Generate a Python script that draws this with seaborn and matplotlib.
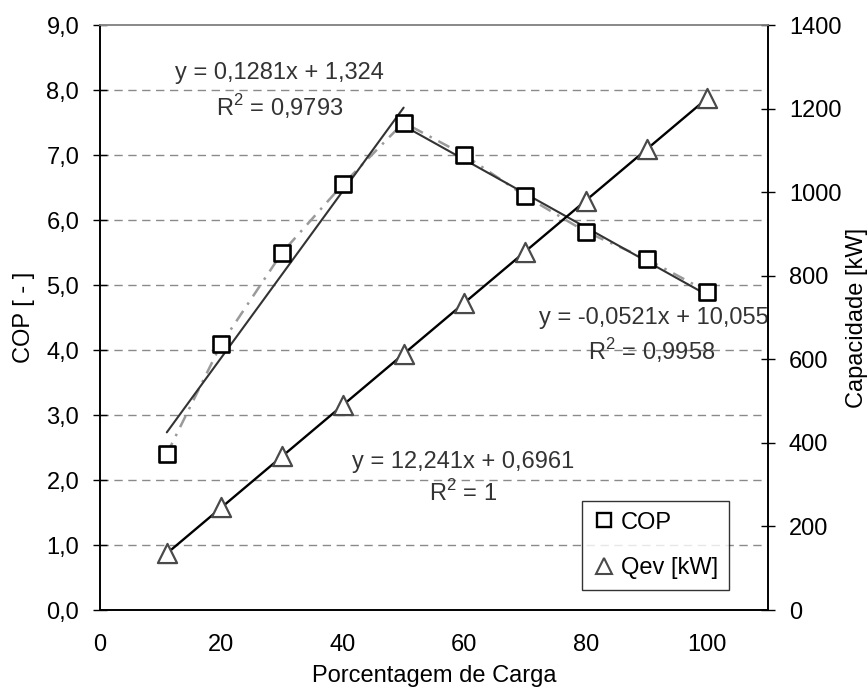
import matplotlib
matplotlib.use("Agg")
import matplotlib.pyplot as plt
import seaborn as sns
import pandas as pd
import numpy as np
from matplotlib.ticker import FuncFormatter, MultipleLocator
from matplotlib.lines import Line2D

# Load percentage and measured values
carga = [11, 20, 30, 40, 50, 60, 70, 80, 90, 100]
cop = [2.40, 4.10, 5.50, 6.55, 7.50, 7.00, 6.37, 5.82, 5.40, 4.90]
qev = [135.3, 245.5, 367.9, 490.3, 612.7, 735.2, 857.6, 980.0, 1102.4, 1224.8]

# Linear trendline coefficients (slope, intercept) and ranges
fit_cop_up = (0.1281, 1.324)
range_cop_up = (11, 50)
fit_cop_down = (-0.0521, 10.055)
range_cop_down = (50, 100)
fit_qev = (12.241, 0.6961)
range_qev = (11, 100)

eq_cop_up = ["y = 0,1281x + 1,324", "R$^2$ = 0,9793"]
eq_cop_down = ["y = -0,0521x + 10,055", "R$^2$ = 0,9958"]
eq_qev = ["y = 12,241x + 0,6961", "R$^2$ = 1"]

df = pd.DataFrame({"carga": carga, "cop": cop, "qev": qev})

sns.set_theme(style="white")
plt.rcParams["font.family"] = ["Liberation Sans", "DejaVu Sans"]
plt.rcParams["mathtext.fontset"] = "custom"
plt.rcParams["mathtext.rm"] = "Liberation Sans"
plt.rcParams["text.color"] = "black"
plt.rcParams["axes.labelcolor"] = "black"

FS = 17

fig = plt.figure(figsize=(8.68, 6.91), dpi=100)
ax = fig.add_axes([0.1152, 0.1172, 0.7696, 0.8466])
ax2 = ax.twinx()

ax.set_xlim(0, 110)
ax.set_ylim(0, 9)
ax2.set_ylim(0, 1400)

# Dashed horizontal grid on the COP scale
for v in range(1, 9):
    ax.axhline(v, color="#8a8a8a", lw=1.0, ls=(0, (6, 4)), zorder=0)

# COP: dash-dot connector, trendlines and markers
sns.lineplot(data=df, x="carga", y="cop", ax=ax, color="#9a9a9a", lw=1.8,
             linestyle=(0, (5, 3, 1, 3)), zorder=2, legend=False)


def trend(fit, rng):
    xs = np.array(rng, dtype=float)
    return xs, fit[0] * xs + fit[1]


xs, ys = trend(fit_cop_up, range_cop_up)
ax.plot(xs, ys, color="#333333", lw=1.5, zorder=3)
xs, ys = trend(fit_cop_down, range_cop_down)
ax.plot(xs, ys, color="#333333", lw=1.5, zorder=3)

sns.scatterplot(data=df, x="carga", y="cop", ax=ax, marker="s", s=130,
                facecolor="white", edgecolor="black", linewidth=1.9, zorder=4,
                legend=False)

# Qev on the secondary axis
xs, ys = trend(fit_qev, range_qev)
ax2.plot(xs, ys, color="black", lw=1.7, zorder=3)
sns.scatterplot(data=df, x="carga", y="qev", ax=ax2, marker="^", s=190,
                facecolor="white", edgecolor="#4a4a4a", linewidth=1.6, zorder=4,
                legend=False)

# Equation labels
tc = "#333333"
ax.text(29.6, 8.26, eq_cop_up[0], ha="center", va="center", fontsize=FS, color=tc)
ax.text(29.6, 7.74, eq_cop_up[1], ha="center", va="center", fontsize=FS, color=tc)
ax.text(91.2, 4.49, eq_cop_down[0], ha="center", va="center", fontsize=FS, color=tc, zorder=5)
ax.text(90.9, 3.99, eq_cop_down[1], ha="center", va="center", fontsize=FS, color=tc, zorder=5)
ax.text(59.8, 2.28, eq_qev[0], ha="center", va="center", fontsize=FS, color=tc)
ax.text(59.8, 1.80, eq_qev[1], ha="center", va="center", fontsize=FS, color=tc)

# Axes styling
ax.xaxis.set_major_locator(MultipleLocator(20))
ax.yaxis.set_major_locator(MultipleLocator(1))
ax2.yaxis.set_major_locator(MultipleLocator(200))
ax.yaxis.set_major_formatter(FuncFormatter(lambda v, p: f"{v:.1f}".replace(".", ",")))
ax2.yaxis.set_major_formatter(FuncFormatter(lambda v, p: f"{v:.0f}"))

for a in (ax, ax2):
    a.tick_params(direction="inout", length=10, width=1.0, colors="black",
                  labelsize=FS, pad=10)
    for side in ("left", "right", "bottom"):
        a.spines[side].set_color("black")
        a.spines[side].set_linewidth(1.2)
    a.spines["top"].set_color("#888888")
    a.spines["top"].set_linewidth(1.2)
ax.tick_params(axis="x", pad=12)

ax.set_xlabel("Porcentagem de Carga", fontsize=FS, labelpad=7)
ax.set_ylabel("COP [ - ]", fontsize=FS, labelpad=8)
ax2.set_ylabel("Capacidade [kW]", fontsize=FS, labelpad=3)

handles = [
    Line2D([], [], marker="s", ls="none", markersize=10, markerfacecolor="white",
           markeredgecolor="black", markeredgewidth=1.7, label="COP"),
    Line2D([], [], marker="^", ls="none", markersize=11, markerfacecolor="white",
           markeredgecolor="#4a4a4a", markeredgewidth=1.5, label="Qev [kW]"),
]
leg = ax2.legend(handles=handles, loc="upper left", bbox_to_anchor=(0.7216, 0.1863),
                 frameon=True, fancybox=False, fontsize=FS, handletextpad=0.2,
                 borderpad=0.45, labelspacing=1.0, handlelength=1.0,
                 borderaxespad=0)
leg.get_frame().set_edgecolor("black")
leg.get_frame().set_linewidth(1.0)

fig.savefig("out.png", dpi=100)
